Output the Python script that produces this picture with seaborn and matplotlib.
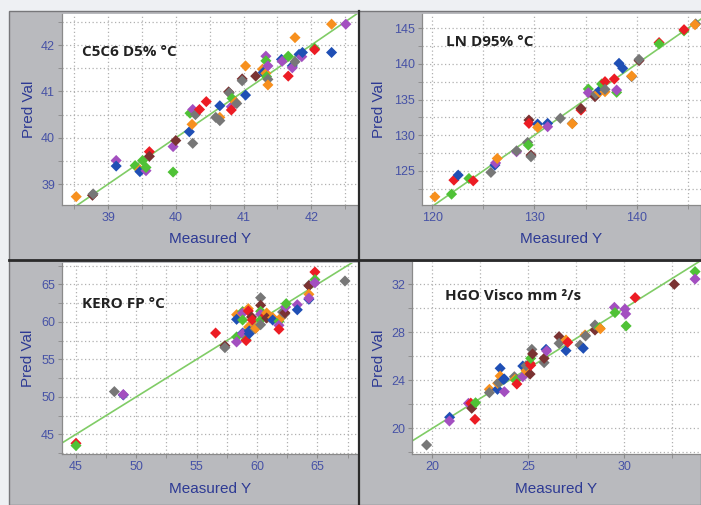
import matplotlib
matplotlib.use('Agg')
import matplotlib.pyplot as plt
from matplotlib.patches import Rectangle
from matplotlib.lines import Line2D
from matplotlib.ticker import MultipleLocator
import seaborn as sns

# sample sets -> colours
sets = ['A', 'B', 'C', 'D', 'E', 'F', 'G']
set_colors = ['#1f4fb5', '#ec1c24', '#f7901e', '#4fc236', '#777777', '#7a3232', '#a34fc0']

# C5C6 D5% degC
c5c6_meas = [38.53, 38.77, 38.78, 39.12, 39.12, 39.40, 39.51, 39.47, 39.47, 39.56,
             39.56, 39.61, 39.61, 39.96, 39.96, 40.00, 40.20, 40.21, 40.25, 40.25,
             40.24, 40.29, 40.35, 40.45, 40.65, 40.59, 40.65, 40.65, 40.78, 40.79,
             40.83, 40.82, 40.82, 40.88, 40.90, 40.98, 40.98, 41.03, 41.03, 41.18,
             41.28, 41.29, 41.33, 41.33, 41.33, 41.34, 41.36, 41.36, 41.36, 41.56,
             41.57, 41.66, 41.66, 41.72, 41.72, 41.76, 41.76, 41.82, 41.86, 41.87,
             42.05, 42.05, 42.30, 42.30, 42.51]
c5c6_pred = [38.73, 38.76, 38.79, 39.51, 39.39, 39.40, 39.51, 39.31, 39.27, 39.29,
             39.36, 39.70, 39.60, 39.26, 39.81, 39.94, 40.13, 40.53, 40.61, 39.88,
             40.29, 40.50, 40.61, 40.78, 40.44, 40.44, 40.37, 40.69, 40.99, 40.97,
             40.85, 40.67, 40.60, 40.77, 40.74, 41.27, 41.23, 40.92, 41.55, 41.33,
             41.48, 41.41, 41.76, 41.66, 41.39, 41.32, 41.55, 41.26, 41.14, 41.69,
             41.65, 41.76, 41.33, 41.55, 41.51, 41.64, 42.16, 41.80, 41.75, 41.84,
             41.93, 41.90, 41.84, 42.45, 42.45]
c5c6_set = ['C', 'F', 'E', 'G', 'A', 'D', 'D', 'C', 'A', 'G',
            'D', 'B', 'F', 'D', 'G', 'F', 'A', 'D', 'G', 'E',
            'C', 'E', 'B', 'B', 'C', 'E', 'E', 'A', 'F', 'E',
            'D', 'G', 'B', 'C', 'E', 'F', 'E', 'A', 'C', 'F',
            'C', 'A', 'G', 'D', 'C', 'D', 'G', 'E', 'C', 'A',
            'G', 'D', 'B', 'A', 'G', 'E', 'C', 'A', 'G', 'A',
            'D', 'B', 'A', 'C', 'G']

# LN D95% degC
ln_meas = [120.26, 121.89, 122.12, 122.54, 123.59, 124.01, 125.74, 126.13, 126.20, 126.36,
           128.25, 128.25, 129.33, 129.40, 129.46, 129.46, 129.66, 129.66, 130.31, 130.31,
           131.29, 131.29, 132.53, 133.70, 133.70, 134.55, 134.55, 135.27, 135.27, 135.92,
           135.99, 136.35, 136.41, 136.57, 136.90, 136.90, 136.90, 137.81, 138.04, 138.04,
           138.27, 138.63, 139.51, 139.51, 140.23, 140.23, 142.19, 142.19, 144.63, 144.63,
           145.77, 145.70]
ln_pred = [121.35, 121.72, 123.69, 124.39, 123.92, 123.59, 124.77, 125.80, 126.10, 126.73,
           127.67, 127.80, 128.98, 128.61, 132.12, 131.65, 127.20, 126.97, 131.56, 131.09,
           131.65, 131.18, 132.36, 131.65, 131.60, 133.52, 133.75, 136.48, 135.96, 135.40,
           135.77, 136.01, 136.33, 137.18, 137.51, 136.10, 136.43, 137.88, 136.01, 136.33,
           140.08, 139.38, 138.21, 138.30, 140.46, 140.64, 142.99, 142.80, 144.63, 144.80,
           145.61, 145.50]
ln_set = ['C', 'D', 'B', 'A', 'D', 'B', 'E', 'A', 'G', 'C',
          'G', 'E', 'E', 'D', 'F', 'B', 'F', 'E', 'A', 'C',
          'A', 'G', 'E', 'E', 'C', 'B', 'F', 'D', 'G', 'F',
          'E', 'C', 'A', 'D', 'B', 'C', 'E', 'B', 'D', 'G',
          'A', 'A', 'E', 'C', 'F', 'E', 'B', 'D', 'D', 'B',
          'E', 'C']

# KERO FP degC
kero_meas = [45.00, 45.00, 48.18, 48.92, 48.92, 56.57, 57.34, 57.34, 58.31, 58.31,
             58.31, 58.31, 58.81, 58.81, 58.81, 58.81, 58.81, 59.08, 59.10, 59.28,
             59.28, 59.30, 59.36, 59.36, 59.55, 59.61, 59.83, 59.90, 60.30, 60.30,
             60.30, 60.30, 60.30, 60.30, 60.75, 60.70, 60.80, 60.80, 61.30, 61.30,
             61.82, 61.82, 61.82, 62.04, 62.12, 62.31, 62.31, 62.37, 62.42, 63.34,
             63.34, 64.30, 64.30, 64.30, 64.30, 64.30, 64.80, 64.80, 64.80, 67.29]
kero_pred = [43.80, 43.49, 50.69, 50.24, 50.30, 58.50, 56.80, 56.55, 60.95, 60.33,
             57.98, 57.31, 61.36, 61.17, 60.24, 58.50, 58.40, 57.61, 57.50, 61.75,
             61.44, 59.30, 58.41, 58.78, 60.64, 60.24, 59.08, 59.15, 63.21, 62.20,
             61.40, 61.00, 60.24, 59.61, 60.91, 60.85, 61.17, 60.50, 60.56, 60.24,
             60.07, 59.53, 59.00, 60.64, 61.30, 61.08, 61.20, 61.97, 62.42, 62.28,
             61.60, 64.87, 64.80, 63.67, 63.00, 63.15, 66.64, 65.62, 65.20, 65.44]
kero_set = ['B', 'D', 'E', 'A', 'G', 'B', 'F', 'E', 'C', 'A',
            'D', 'G', 'D', 'G', 'D', 'A', 'G', 'D', 'B', 'C',
            'B', 'C', 'A', 'A', 'F', 'B', 'E', 'C', 'E', 'F',
            'D', 'G', 'D', 'E', 'A', 'B', 'C', 'F', 'C', 'A',
            'D', 'G', 'B', 'C', 'E', 'E', 'F', 'G', 'D', 'G',
            'A', 'E', 'F', 'C', 'A', 'G', 'B', 'D', 'G', 'E']

# HGO Visco mm2/s
hgo_meas = [19.70, 20.90, 20.89, 21.88, 22.00, 22.05, 22.25, 22.22, 22.97, 22.97,
            23.39, 23.40, 23.45, 23.53, 23.53, 23.70, 23.75, 23.75, 24.27, 24.30,
            24.35, 24.40, 24.71, 24.71, 24.88, 24.88, 25.09, 25.09, 25.12, 25.12,
            25.18, 25.22, 25.82, 25.82, 25.92, 25.95, 26.60, 26.60, 26.96, 26.96,
            27.05, 27.69, 27.86, 27.95, 27.98, 28.47, 28.47, 28.70, 28.75, 29.48,
            29.51, 30.03, 30.07, 30.09, 30.56, 32.60, 33.68, 33.68]
hgo_pred = [18.61, 20.92, 20.61, 22.08, 22.10, 21.67, 22.13, 20.75, 23.25, 22.97,
            23.25, 23.75, 23.80, 25.00, 24.36, 24.08, 24.11, 23.05, 24.30, 24.08,
            24.00, 23.69, 24.30, 25.19, 24.80, 25.22, 24.52, 25.42, 25.25, 25.83,
            26.58, 26.20, 25.47, 25.83, 26.58, 26.45, 27.64, 27.08, 26.47, 27.36,
            27.17, 26.94, 26.67, 27.78, 27.70, 28.19, 28.61, 28.39, 28.30, 30.08,
            29.64, 29.94, 29.53, 28.53, 30.89, 32.00, 33.06, 32.44]
hgo_set = ['E', 'A', 'G', 'G', 'B', 'F', 'D', 'B', 'C', 'E',
           'A', 'C', 'E', 'A', 'C', 'A', 'A', 'G', 'E', 'C',
           'D', 'B', 'G', 'A', 'C', 'E', 'F', 'B', 'B', 'D',
           'E', 'F', 'E', 'F', 'A', 'G', 'F', 'E', 'A', 'C',
           'B', 'E', 'A', 'C', 'E', 'F', 'E', 'D', 'C', 'G',
           'D', 'G', 'G', 'D', 'B', 'F', 'D', 'G']

W, H = 701, 505
fig = plt.figure(figsize=(W / 100, H / 100), dpi=100)
fig.patch.set_facecolor('#eef0f3')

# grey panel background (pixel coords -> figure fraction)
fig.add_artist(Rectangle((9 / W, 0), 1 - 9 / W, 1 - 11 / H, transform=fig.transFigure,
                         facecolor='#b9babe', edgecolor='#77777a', lw=1, zorder=-5))


def add_panel(l, t, r, b, meas, pred, grp, title, xlim, ylim, xmaj, xmin, ymaj, ymin,
              tx, ty, xlab_y, ylab_x):
    ax = fig.add_axes([l / W, 1 - b / H, (r - l) / W, (b - t) / H])
    ax.set_facecolor('white')
    ax.set_axisbelow(True)
    ax.axline((0, 0), slope=1, color='#80cc66', lw=1.2, zorder=1)
    sns.scatterplot(x=meas, y=pred, hue=grp, hue_order=sets,
                    palette=dict(zip(sets, set_colors)), marker='D', s=32,
                    linewidth=0, legend=False, ax=ax, zorder=3)
    ax.set_xlim(*xlim)
    ax.set_ylim(*ylim)
    ax.xaxis.set_major_locator(MultipleLocator(xmaj))
    ax.xaxis.set_minor_locator(MultipleLocator(xmin))
    ax.yaxis.set_major_locator(MultipleLocator(ymaj))
    ax.yaxis.set_minor_locator(MultipleLocator(ymin))
    ax.grid(True, which='both', linestyle=(0, (1, 2)), color='#b0b0b0', lw=0.9)
    for s in ['top', 'right']:
        ax.spines[s].set_visible(False)
    for s in ['left', 'bottom']:
        ax.spines[s].set_color('#8a8a8a')
        ax.spines[s].set_linewidth(0.9)
    ax.tick_params(which='both', direction='out', length=3, color='#8a8a8a',
                   labelcolor='#4652a6', labelsize=9, pad=2)
    ax.set_xlabel('Measured Y', fontsize=11, color='#2d3a94')
    ax.set_ylabel('Pred Val', fontsize=11, color='#2d3a94')
    ax.xaxis.set_label_coords(0.5, xlab_y)
    ax.yaxis.set_label_coords(ylab_x, 0.5)
    ax.text(tx, ty, title, transform=ax.transAxes, fontsize=11, fontweight='bold',
            family=['Open Sans', 'DejaVu Sans'], color='#222222', va='center', ha='left',
            zorder=5)
    return ax


plt.rcParams['font.family'] = ['Liberation Sans', 'DejaVu Sans']

add_panel(62, 14, 358, 205, c5c6_meas, c5c6_pred, c5c6_set, 'C5C6 D5% °C',
          (38.32, 42.69), (38.55, 42.67), 1, 0.5, 1, 0.5, 0.068, 0.80, -0.141, -0.088)
add_panel(422, 14, 701, 205, ln_meas, ln_pred, ln_set, 'LN D95% °C',
          (119.0, 146.29), (120.2, 147.0), 10, 5, 5, 2.5, 0.085, 0.853, -0.141, -0.129)
add_panel(62, 263, 358, 454, kero_meas, kero_pred, kero_set, 'KERO FP °C',
          (43.84, 68.37), (42.37, 67.84), 5, 2.5, 5, 2.5, 0.068, 0.784, -0.146, -0.091)
add_panel(412, 262, 701, 454, hgo_meas, hgo_pred, hgo_set, 'HGO Visco mm ²/s',
          (18.94, 33.99), (17.86, 33.86), 5, 2.5, 4, 2, 0.114, 0.824, -0.146, -0.09)

# dark panel dividers
fig.add_artist(Line2D([358.8 / W, 358.8 / W], [0, 1 - 11 / H], transform=fig.transFigure,
                      color='#2a2a2a', lw=1.6, zorder=20))
fig.add_artist(Line2D([9 / W, 1], [1 - 259.8 / H, 1 - 259.8 / H], transform=fig.transFigure,
                      color='#2a2a2a', lw=2.0, zorder=20))

fig.savefig('out.png', dpi=100, facecolor=fig.get_facecolor())
